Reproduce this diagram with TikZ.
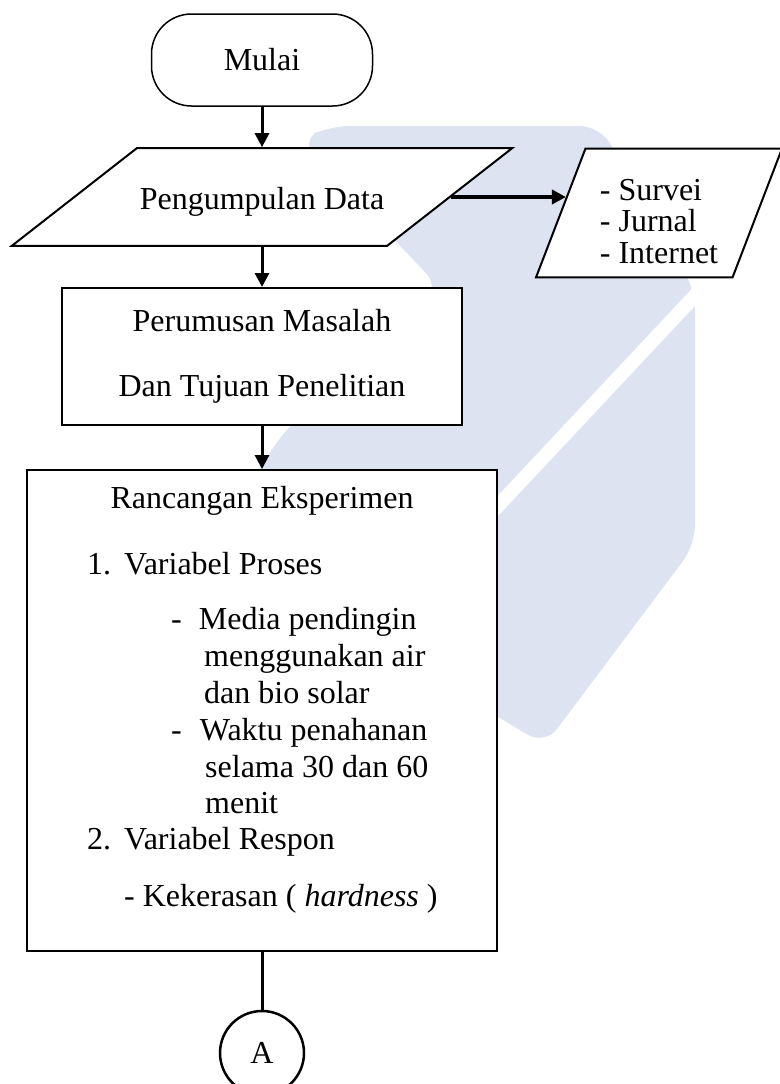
\documentclass[tikz,border=0pt]{standalone}
\usepackage{fontspec}
\setmainfont{Liberation Serif}
\usepackage{xcolor}
\usetikzlibrary{shapes.geometric,arrows.meta,calc}
\definecolor{wmblue}{HTML}{DDE3F1}

\begin{document}
\begin{tikzpicture}[
    x=1pt, y=-1pt,
    font=\fontsize{32}{38}\selectfont,
    terminal/.style={rectangle, draw, line width=1.5pt, rounded corners=40pt, minimum width=221pt, minimum height=92pt},
    io/.style={trapezium, draw, line width=2pt, fill=white},
    box/.style={rectangle, draw, line width=2pt, fill=white},
    item/.style={anchor=base west, inner sep=0pt},
    konek/.style={circle, draw, line width=2.5pt, fill=white, minimum size=84pt, inner sep=0pt},
    arrow/.style={-{Triangle[length=14pt,width=14pt]}, line width=3pt}
]
    \useasboundingbox (0,0) rectangle (779,1084);
    % watermark
    \fill[wmblue, rounded corners=20pt] (300,140) -- (330,126) -- (600,126) -- (695,290) -- (695,545) -- (545,745) -- (209,545) -- (285,430) -- (440,288) -- cycle;
    \draw[white, line width=14pt] (480,525) -- (705,285);

    \node[terminal] (mulai) at (262,60) {Mulai};
    \node[io, trapezium left angle=38, trapezium right angle=142, inner xsep=3pt, inner ysep=29.4pt] (data) at (262,197) {\rule{0pt}{31.9pt}Pengumpulan Data};
    \node[io, trapezium left angle=69, trapezium right angle=111, inner xsep=14.5pt, inner ysep=13.7pt, align=left, font=\fontsize{32}{31.5}\selectfont] (sumber) at (659,213) {\rule{0pt}{37.9pt}- Survei\\- Jurnal\\- Internet};
    \node[box, minimum width=400pt, minimum height=137pt, align=center, font=\fontsize{32}{65}\selectfont] (rumusan) at (262,356.5) {Perumusan Masalah\\Dan Tujuan Penelitian};
    \node[box, minimum width=470pt, minimum height=481pt] (rancangan) at (262,710.5) {};
    \node[konek] (konektor) at (262,1053) {A};

    % isi rancangan eksperimen
    \node[anchor=base, inner sep=0pt] (judul) at (262,508) {Rancangan Eksperimen};
    \node[item] (var1) at (87,574) {1.\hspace{13pt}Variabel Proses};
    \node[item] (media1) at (171,629) {-\hspace{17pt}Media pendingin};
    \node[item] (media2) at (204,666) {menggunakan air};
    \node[item] (media3) at (204,703) {dan bio solar};
    \node[item] (waktu1) at (171,740) {-\hspace{18pt}Waktu penahanan};
    \node[item] (waktu2) at (205,777) {selama 30 dan 60};
    \node[item] (waktu3) at (205,813) {menit};
    \node[item] (var2) at (87,849) {2.\hspace{13pt}Variabel Respon};
    \node[item] (keras) at (124,906) {- Kekerasan ( \textit{hardness} )};

    \coordinate (masuk) at ($(sumber.top left corner)!0.375!(sumber.bottom left corner)$);

    \draw[arrow] (mulai) -- (data);
    \draw[arrow, line width=4.5pt] (data.east) -- (data.east -| masuk);
    \draw[arrow] (data) -- (rumusan);
    \draw[arrow] (rumusan) -- (rancangan);
    \draw[line width=3pt] (rancangan) -- (konektor);
\end{tikzpicture}
\end{document}
